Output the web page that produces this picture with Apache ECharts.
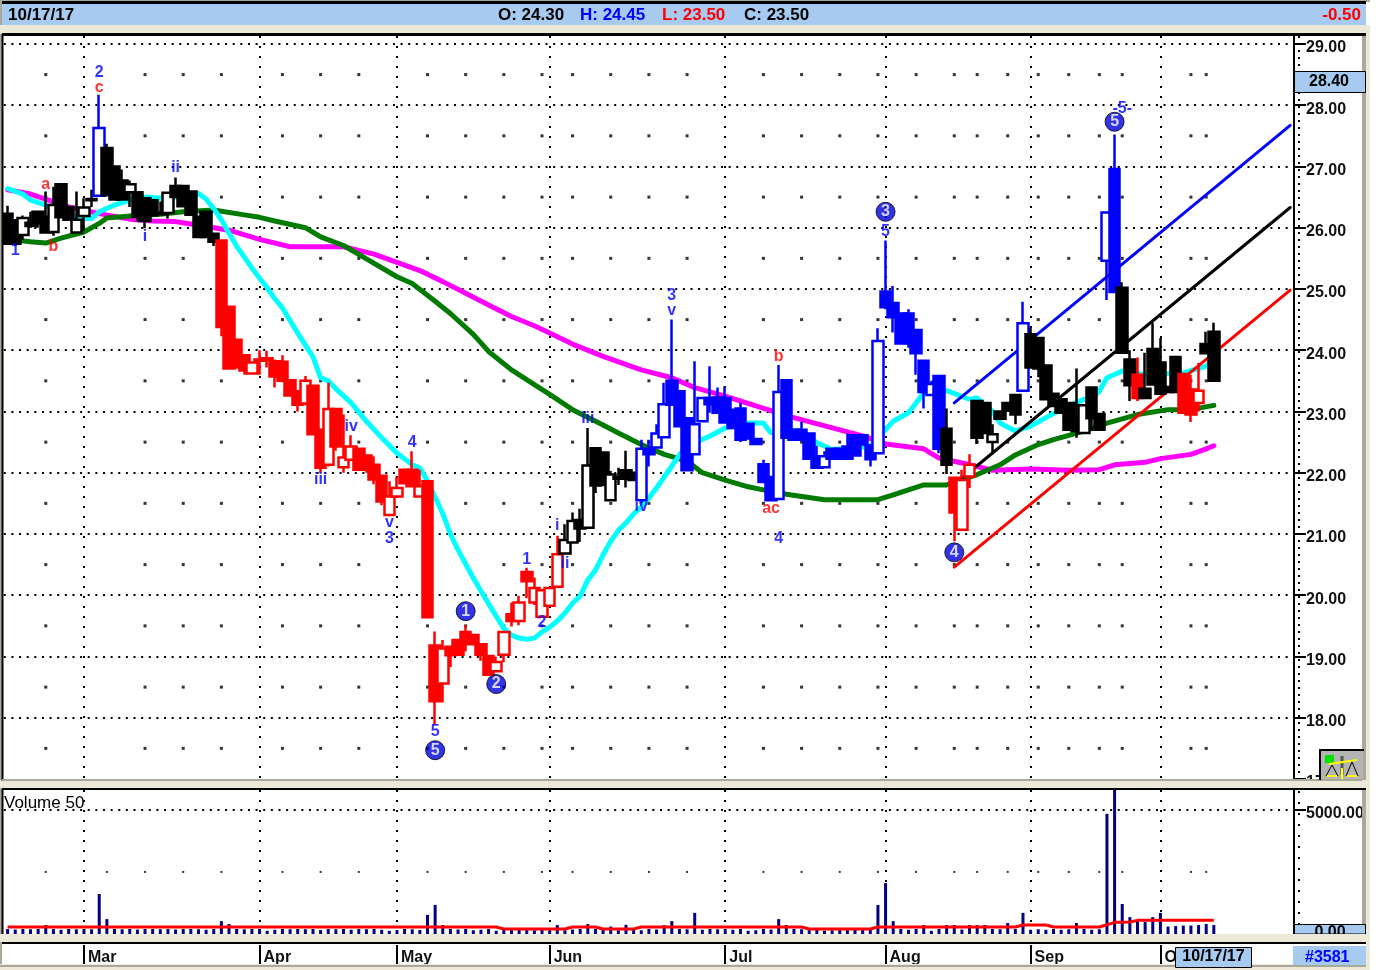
<!DOCTYPE html>
<html>
<head>
<meta charset="utf-8">
<style>html,body{margin:0;padding:0;background:#fff}#main{width:1400px;height:970px}</style>
<script src="https://cdn.jsdelivr.net/npm/echarts@6/dist/echarts.min.js"></script>
</head>
<body>
<div id="main"></div>
<script>
var opens = [
  26.23,26.12,25.88,26.08,26.26,26.18,25.93,26.71,26.34,25.92,
  26.19,26.47,26.52,27.30,27.00,26.77,26.58,26.58,26.48,26.45,
  26.25,26.24,26.68,26.68,26.59,26.17,26.26,25.90,25.79,24.71,
  24.17,23.92,23.62,23.85,23.87,23.82,23.81,23.51,23.33,23.13,
  23.42,22.70,22.13,23.04,22.09,22.21,22.39,22.28,22.13,21.95,
  21.31,21.61,22.05,22.05,21.61,21.86,19.18,18.56,19.16,19.27,
  19.40,19.35,19.20,19.01,18.76,19.03,19.69,19.58,20.38,19.88,
  19.65,19.83,20.14,20.68,20.86,21.23,21.10,22.40,22.33,21.55,
  21.93,22.04,22.00,21.55,22.38,22.41,22.58,23.50,23.33,22.89,
  22.30,22.84,23.22,23.23,23.22,23.03,23.05,22.80,22.55,22.14,
  21.93,21.57,23.51,22.70,22.70,22.64,22.27,22.09,22.39,22.39,
  22.43,22.61,22.61,22.45,22.32,24.96,24.77,24.60,24.60,24.33,
  23.83,23.27,23.58,22.72,21.92,21.07,21.94,23.17,23.14,22.50,
  23.00,23.14,23.27,23.34,24.26,24.20,23.75,23.29,23.20,23.14,
  22.90,22.65,23.39,22.96,25.46,26.96,25.02,23.85,23.60,23.37,
  24.02,23.80,23.40,23.89,23.61,23.36,23.14,24.10,24.30
];
var closes = [
  25.74,25.74,26.16,26.03,26.07,25.92,26.37,26.17,26.13,26.13,
  26.33,26.45,27.63,26.53,26.46,26.46,26.71,26.18,26.11,26.20,
  26.22,26.57,26.50,26.35,26.21,25.85,25.85,25.77,24.38,23.70,
  23.72,23.67,23.80,23.83,23.85,23.57,23.50,23.26,23.11,23.50,
  22.63,22.08,23.04,22.43,22.25,22.43,22.05,22.07,21.89,21.53,
  21.61,21.75,21.83,21.78,21.78,19.64,18.27,19.13,19.02,19.03,
  19.21,19.20,19.03,18.70,18.91,19.40,19.58,19.88,20.23,20.12,
  20.08,20.12,20.67,20.90,21.21,21.09,22.12,21.79,21.80,21.97,
  21.90,21.90,21.88,22.39,22.30,22.64,23.12,23.11,22.76,22.04,
  22.79,23.22,23.12,22.98,22.82,22.73,22.54,22.56,22.47,21.85,
  21.55,23.32,22.57,22.54,22.54,22.23,22.08,22.27,22.23,22.23,
  22.23,22.28,22.46,22.22,24.15,24.70,24.54,24.11,24.12,23.95,
  23.32,23.45,22.39,22.13,21.35,21.88,22.13,22.57,22.65,22.63,
  22.88,23.01,22.95,24.44,23.72,23.70,23.20,23.09,22.98,22.70,
  22.68,23.10,22.89,22.70,26.25,24.95,23.96,23.43,23.22,23.22,
  23.44,23.29,23.32,23.32,22.98,22.95,23.34,23.95,23.50
];
var lows = [
  25.74,25.70,25.80,26.00,26.00,25.92,25.87,26.17,26.13,25.90,
  25.95,26.34,26.52,26.53,26.46,26.46,26.34,26.10,25.99,26.20,
  26.20,26.15,26.50,26.35,26.21,25.85,25.85,25.70,24.23,23.70,
  23.72,23.60,23.62,23.60,23.72,23.39,23.50,23.26,23.00,23.10,
  22.63,22.00,22.10,22.36,22.00,22.20,22.05,22.00,21.81,21.47,
  21.30,21.60,21.83,21.78,21.60,19.64,17.89,18.25,18.83,19.03,
  19.08,19.18,18.93,18.70,18.76,18.91,19.49,19.51,19.95,19.84,
  19.65,19.83,20.14,20.68,20.86,20.87,21.10,21.67,21.80,21.55,
  21.80,21.76,21.88,21.50,22.10,22.41,22.58,23.11,22.76,22.04,
  22.30,22.84,22.98,22.98,22.82,22.73,22.50,22.56,22.47,21.85,
  21.55,21.55,22.57,22.54,22.54,22.23,22.08,22.08,22.23,22.23,
  22.23,22.28,22.46,22.10,22.30,24.67,24.29,24.11,24.04,23.60,
  23.05,23.27,22.32,21.98,20.88,21.07,21.75,22.47,22.65,22.30,
  22.88,23.01,22.79,23.34,23.72,23.56,23.20,23.09,22.98,22.70,
  22.57,22.65,22.68,22.68,24.82,24.95,23.96,23.17,23.17,23.20,
  23.44,23.29,23.32,23.32,22.98,22.83,23.00,23.95,23.50
];
var highs = [
  26.36,26.12,26.20,26.26,26.26,26.59,26.67,26.71,26.34,26.59,
  26.48,26.62,28.17,27.37,27.00,26.95,26.77,26.60,26.48,26.45,
  26.43,26.57,26.82,26.68,26.59,26.20,26.26,25.90,25.79,24.71,
  24.17,23.92,23.80,24.00,23.99,23.85,23.92,23.51,23.33,23.58,
  23.42,22.70,23.47,23.04,22.95,22.61,22.39,22.28,22.27,21.95,
  21.86,21.94,22.05,22.35,22.05,21.86,19.41,19.27,19.16,19.27,
  19.51,19.35,19.20,19.01,19.00,19.40,19.88,19.99,20.45,20.29,
  20.08,20.12,20.97,21.16,21.35,21.41,22.73,22.40,22.33,22.03,
  22.08,22.36,22.00,22.54,22.54,22.79,23.47,24.50,23.33,22.89,
  23.82,23.22,23.74,23.39,23.41,23.03,23.14,22.80,22.55,22.21,
  21.93,23.76,23.51,22.70,22.83,22.64,22.44,22.35,22.39,22.39,
  22.64,22.61,22.61,22.45,24.36,25.79,25.05,24.60,24.67,24.33,
  23.83,23.50,23.58,23.05,21.92,22.05,22.30,23.17,23.14,22.79,
  23.00,23.14,23.27,24.79,24.37,24.20,23.75,23.29,23.20,23.14,
  23.70,23.10,23.39,22.96,26.25,27.52,25.11,24.00,23.88,23.96,
  24.45,24.20,23.40,23.89,23.61,23.60,23.79,24.30,24.45
];
var volumes = [
  200,180,200,190,200,360,200,170,200,190,
  200,190,1610,600,200,190,200,180,200,200,
  190,200,180,200,200,190,170,200,520,400,
  200,190,200,200,130,170,200,190,200,190,
  200,160,200,190,200,170,200,190,200,170,
  130,150,200,190,160,770,1170,360,200,180,
  200,150,170,200,130,200,180,160,200,150,
  200,130,360,150,180,200,400,200,170,300,
  150,370,180,150,200,180,360,520,200,190,
  850,170,200,190,200,170,200,130,150,200,
  180,600,360,200,190,200,180,130,150,200,
  180,170,200,190,1170,2050,520,200,170,200,
  360,130,200,360,360,180,360,360,360,200,
  190,440,200,850,170,190,170,200,170,190,
  440,200,170,190,4840,5800,1210,680,560,480,
  680,850,300,320,340,340,360,400,360
];
var volumeAverage = [
  280,280,280,280,280,280,280,280,280,280,
  280,280,280,280,280,280,280,280,280,280,
  280,280,280,280,280,280,280,280,280,280,
  280,280,280,280,280,280,280,280,280,280,
  280,280,280,280,280,280,280,280,280,280,
  280,280,280,280,280,280,280,280,280,280,
  280,280,280,280,280,200,200,200,200,200,
  200,200,200,200,280,280,280,280,200,200,
  200,200,200,280,280,280,280,280,280,280,
  280,280,280,280,280,280,280,280,280,280,
  280,280,280,280,280,200,200,200,200,200,
  200,200,200,200,280,280,280,280,280,280,
  280,280,280,280,280,280,280,280,280,280,
  280,280,280,360,360,360,360,280,280,280,
  280,280,280,280,370,470,470,480,550,550,
  550,550,550,550,550,550,550,550,550
];

// [bar, price]
var cyanLine = [[0,26.64],[2,26.55],[3,26.45],[5,26.37],[8,26.2],[10,26.15],[11,26.15],[12,26.26],[14,26.37],[16,26.45],[18,26.5],[20,26.48],[22,26.5],[25,26.56],[26,26.47],[27,26.31],[28,26.13],[29,25.91],[30,25.7],[31,25.52],[32,25.34],[33,25.18],[34,25.02],[35,24.84],[36,24.69],[38,24.28],[40,23.89],[41,23.55],[42,23.5],[43,23.37],[45,23.14],[47,22.84],[49,22.57],[51,22.32],[53,22.13],[54,22.08],[55,21.86],[56,21.6],[57,21.33],[58,21.0],[59,20.74],[60,20.51],[61,20.28],[62,20.07],[63,19.86],[64,19.66],[65,19.46],[66,19.35],[67,19.3],[68,19.28],[69,19.3],[70,19.4],[71,19.48],[72,19.58],[73,19.71],[74,19.87],[75,19.99],[76,20.25],[77,20.41],[78,20.66],[79,20.88],[80,21.06],[81,21.18],[82,21.33],[83,21.44],[84,21.59],[85,21.75],[86,21.93],[87,22.11],[88,22.29],[89,22.44],[90,22.49],[92,22.6],[94,22.73],[97,22.81],[99,22.81],[100,22.65],[102,22.7],[104,22.68],[106,22.49],[108,22.38],[113,22.43],[116,22.84],[118,22.98],[120,23.3],[123,23.34],[126,23.2],[127,23.22],[129,23.0],[130,22.81],[132,22.68],[134,22.76],[136,22.9],[138,23.03],[141,23.2],[142,23.22],[143,23.33],[144,23.55],[146,23.66],[149,23.6],[154,23.63],[157,23.74],[158,23.85]];
var greenLine = [[1,25.8],[3,25.77],[5,25.75],[7,25.83],[10,25.93],[12,26.07],[13,26.16],[16,26.19],[20,26.22],[23,26.26],[27,26.29],[31,26.21],[33,26.17],[35,26.11],[39,26.0],[41,25.85],[44,25.71],[47,25.49],[51,25.2],[53,25.09],[56,24.8],[58,24.6],[61,24.26],[63,23.98],[66,23.68],[69,23.44],[71,23.28],[74,23.03],[78,22.78],[80,22.65],[83,22.46],[86,22.3],[89,22.19],[91,22],[94,21.88],[97,21.77],[99,21.72],[102,21.65],[107,21.56],[114,21.56],[116,21.64],[120,21.8],[123,21.8],[127,21.97],[130,22.13],[132,22.29],[135,22.46],[137,22.54],[141,22.68],[144,22.81],[148,22.95],[152,23.03],[155,23.03],[158,23.1]];
var magentaLine = [[0,26.62],[3,26.55],[8,26.34],[12,26.23],[16,26.14],[19,26.11],[22,26.1],[24,26.06],[29,25.96],[33,25.81],[37,25.69],[44,25.69],[48,25.57],[52,25.39],[54,25.3],[57,25.12],[60,24.93],[63,24.74],[66,24.55],[69,24.4],[71,24.28],[74,24.1],[78,23.9],[83,23.68],[87,23.55],[90,23.39],[94,23.25],[98,23.09],[103,22.9],[109,22.7],[112,22.6],[115,22.47],[120,22.39],[122,22.24],[125,22.16],[129,22.04],[134,22.06],[139,22.04],[143,22.05],[145,22.13],[149,22.17],[151,22.23],[155,22.3],[157,22.39],[158,22.44]];
var blueTrend = [[124,23.14],[168,27.67]];
var blackTrend = [[125,21.91],[168,26.33]];
var redTrend = [[124,20.46],[168,24.98]];

// month names on the bar where they start
var monthBars = [10,33,51,71,94,115,134,151];
var monthNames = ['Mar','Apr','May','Jun','Jul','Aug','Sep','Oct'];
var gridDotBars = [5,18,23,28,36,41,46,55,60,65,70,74,79,84,89,99,104,109,114,119,124,127,131,135,139,143,146,155,157];
var gridDotPrices = [28.5,27.5,26.5,25.5,24.5,23.5,22.5,21.5,20.5,19.5,18.5,17.5];

// wave labels: text, bar, price
var blueLabels = [['2',12,28.54],['1',1,25.62],['i',18,25.85],['ii',22,26.98],['iii',41,21.88],['iv',45,22.75],['4',53,22.5],['v',50,21.19],['3',50,20.93],['5',56,17.78],['1',68,20.59],['2',70,19.56],['i',72,21.13],['ii',73,20.52],['iii',76,22.89],['iv',83,21.44],['3',87,24.9],['v',87,24.64],['4',101,20.92],['5',115,25.93],['-5-',146,27.94]];
var redLabels = [['c',12,28.28],['a',5,26.7],['b',6,25.7],['b',101,23.9],['ac',100,21.42]];
var circleLabels = [['5',56,17.47],['1',60,19.74],['2',64,18.55],['3',115,26.26],['4',124,20.7],['5',145,27.73]];

var BLACK = '#000', BLUE = '#0000ff', RED = '#ff0000';
var colourRuns = [[11,BLACK],[12,BLUE],[27,BLACK],[72,RED],[82,BLACK],[122,BLUE],[123,BLACK],[126,RED],[132,BLACK],[133,BLUE],[143,BLACK],[145,BLUE],[147,BLACK],[148,RED],[153,BLACK],[156,RED],[158,BLACK]];
function barColour(i) {
  for (var r = 0; r < colourRuns.length; r++) {
    if (i <= colourRuns[r][0]) return colourRuns[r][1];
  }
  return BLACK;
}

// 169 slots so the bars keep the picture's spacing, the last ones stay empty
var categories = [];
for (var c = 0; c < 169; c++) categories.push(c);
function isMonth(index) { return monthBars.indexOf(index) >= 0; }

// up days are hollow, down days solid
var candleData = opens.map(function (o, i) {
  var col = barColour(i);
  var fill = closes[i] > o ? '#fff' : col;
  return {
    value: [o, closes[i], lows[i], highs[i]],
    itemStyle: {color: fill, color0: fill, borderColor: col, borderColor0: col, borderWidth: 2.5}
  };
});

var priceDots = [];
gridDotPrices.forEach(function (p) {
  gridDotBars.forEach(function (b) { priceDots.push([b, p]); });
});
var volumeDots = gridDotBars.concat([13]).map(function (b) { return [b, 2500]; });

function toLabelPoints(list) {
  return list.map(function (l) { return {value: [l[1], l[2]], name: l[0]}; });
}
function maLine(name, data, colour, width) {
  return {
    name: name, type: 'line', data: data, xAxisIndex: 0, yAxisIndex: 0, z: 3,
    showSymbol: false, symbol: 'none', silent: true,
    lineStyle: {color: colour, width: width, cap: 'round'}
  };
}
function textSeries(list, colour) {
  return {
    type: 'scatter', data: toLabelPoints(list), xAxisIndex: 0, yAxisIndex: 0, z: 6,
    symbolSize: 1, itemStyle: {color: 'transparent'},
    label: {
      show: true, position: 'inside', color: colour, fontFamily: 'Liberation Sans',
      fontWeight: 'bold', fontSize: 16,
      formatter: function (p) { return p.name; }
    }
  };
}

var FONT = 'Liberation Sans';
var PANEL = '#a6caf0', BAND = '#ece9d8', EDGE = '#aca899';
function box(x, y, w, h, fill, stroke) {
  return {type: 'rect', z: 100, shape: {x: x, y: y, width: w, height: h},
    style: {fill: fill, stroke: stroke || null, lineWidth: stroke ? 1 : 0}};
}
function txt(x, y, s, colour, align, weight, size) {
  return {type: 'text', z: 101, x: x, y: y,
    style: {text: s, fill: colour, font: (weight || 'bold') + ' ' + (size || 16) + 'px ' + FONT, align: align || 'left', verticalAlign: 'middle'}};
}
function seg(x1, y1, x2, y2, colour, w, dash, z) {
  return {type: 'line', z: z || 102, shape: {x1: x1, y1: y1, x2: x2, y2: y2},
    style: {stroke: colour, lineWidth: w, lineDash: dash || null}};
}

var chrome = [
  // outer bands and edges
  box(1366, 0, 34, 970, '#fff'),
  box(1362, 26, 4, 916, EDGE),
  box(0, 0, 1370, 2, EDGE),
  box(0, 0, 2, 970, EDGE),
  box(0, 25, 1370, 9, BAND),
  box(0, 780, 1370, 8, BAND),
  box(0, 934, 1370, 8, BAND),
  box(0, 964, 1370, 6, BAND),
  box(0, 965, 1370, 2, EDGE),
  box(1366, 25, 4, 945, BAND),
  // plot frames
  seg(2, 2.5, 1366, 2.5, '#000', 3),
  seg(2, 34.5, 1366, 34.5, '#000', 3),
  seg(2.5, 34, 2.5, 781, '#000', 2),
  seg(2, 780, 1362, 780, EDGE, 2),
  seg(2, 789, 1366, 789, '#000', 2),
  seg(2.5, 789, 2.5, 934, '#000', 2),
  seg(2, 943, 1366, 943, '#000', 2),
  // quote header
  box(2, 4, 1364, 21, PANEL),
  txt(8, 15, '10/17/17', '#000', 'left', 'bold', 17),
  txt(498, 15, 'O: 24.30', '#000', 'left', 'bold', 17),
  txt(580, 15, 'H: 24.45', BLUE, 'left', 'bold', 17),
  txt(662, 15, 'L: 23.50', RED, 'left', 'bold', 17),
  txt(744, 15, 'C: 23.50', '#000', 'left', 'bold', 17),
  txt(1361, 15, '-0.50', RED, 'right', 'bold', 17),
  // axis dots and tags
  seg(1299, 36, 1299, 779, '#000', 2, [2, 5], 99),
  seg(1299, 791, 1299, 933, '#000', 2, [2, 9], 99),
  box(1294.5, 71.5, 71, 21, PANEL, '#000'),
  txt(1329, 82, '28.40', '#000', 'center'),
  box(1294.5, 924.5, 71, 9.5, PANEL, '#000'),
  txt(1330, 933, '0.00', '#000', 'center'),
  txt(4, 803, 'Volume 50', '#000', 'left', 'normal', 17),
  seg(0, 938, 1366, 938, BAND, 8),
  seg(2, 943, 1366, 943, '#000', 2),
  box(1366, 900, 4, 70, BAND),
  // date boxes
  box(1175.5, 947.5, 76, 20, PANEL, '#000'),
  txt(1213.5, 957, '10/17/17', '#000', 'center'),
  box(1293, 946, 73, 19, PANEL),
  txt(1305, 958, '#3581', BLUE),
  // scales icon
  box(1320, 750, 43, 29, '#b4b4b4'),
  seg(1319, 750, 1364, 750, '#000', 2),
  seg(1320, 749, 1320, 780, '#000', 2),
  box(1325, 755, 9, 8, '#00e000'),
  seg(1342, 756, 1342, 775, '#555', 3),
  seg(1329, 764, 1357, 760, '#ffff00', 2),
  seg(1332, 765, 1326, 776, '#000', 1),
  seg(1332, 765, 1338, 776, '#000', 1),
  seg(1352, 762, 1346, 776, '#000', 1),
  seg(1352, 762, 1358, 776, '#000', 1),
  seg(1327, 776, 1337, 776, '#ffff00', 2),
  seg(1347, 776, 1357, 776, '#ffff00', 2),
  seg(1342, 768, 1342, 779, '#ffff00', 2)
];

var dotted = {color: '#000', width: 2, type: [2, 5.63]};
var monthDots = {color: '#000', width: 2, type: [2, 8]};

var myChart = echarts.init(document.getElementById('main'));
var option = {
  animation: false,
  backgroundColor: '#fff',
  textStyle: {fontFamily: FONT},
  graphic: {elements: chrome},
  grid: [
    {left: 3.8, width: 1290.2, top: 36, height: 743},
    {left: 3.8, width: 1290.2, top: 790, height: 144},
    {left: 3.8, width: 1290.2, top: 945, height: 20}
  ],
  xAxis: [
    {
      type: 'category', gridIndex: 0, data: categories,
      axisLine: {show: false}, axisTick: {show: false}, axisLabel: {show: false},
      splitLine: {show: true, alignWithLabel: true, interval: isMonth, lineStyle: monthDots}
    },
    {
      type: 'category', gridIndex: 1, data: categories,
      axisLine: {show: false}, axisTick: {show: false}, axisLabel: {show: false},
      splitLine: {show: true, alignWithLabel: true, interval: isMonth, lineStyle: monthDots}
    },
    {
      type: 'category', gridIndex: 2, data: categories,
      axisLine: {show: false},
      axisTick: {show: true, alignWithLabel: true, inside: true, length: 20, interval: isMonth, lineStyle: {color: '#000', width: 2}},
      axisLabel: {
        show: true, inside: true, interval: isMonth, margin: -1, align: 'left', padding: [0, 0, 0, 4],
        color: '#111', fontWeight: 'bold', fontSize: 16, fontFamily: FONT,
        formatter: function (v) { return monthNames[monthBars.indexOf(+v)]; }
      }
    }
  ],
  yAxis: [
    {
      type: 'value', gridIndex: 0, position: 'right', min: 17, max: 29.13, interval: 1,
      axisLine: {show: true, lineStyle: {color: '#000', width: 2}},
      axisTick: {show: true, length: 12, lineStyle: {color: '#000', width: 2}},
      axisLabel: {
        margin: 12, color: '#111', fontWeight: 'bold', fontSize: 16, fontFamily: FONT,
        showMaxLabel: false, verticalAlign: 'top', lineHeight: 8,
        formatter: function (v) { return v.toFixed(2); }
      },
      splitLine: {show: true, showMaxLine: false, showMinLine: false, lineStyle: dotted}
    },
    {
      type: 'value', gridIndex: 1, position: 'right', min: 0, max: 5800, interval: 5000,
      axisLine: {show: true, lineStyle: {color: '#000', width: 2}},
      axisTick: {show: true, length: 12, lineStyle: {color: '#000', width: 2}},
      axisLabel: {
        margin: 12, color: '#111', fontWeight: 'bold', fontSize: 16, fontFamily: FONT,
        showMaxLabel: false, showMinLabel: false, verticalAlign: 'top', lineHeight: 8,
        formatter: function (v) { return v.toFixed(2); }
      },
      splitLine: {show: true, showMaxLine: false, showMinLine: false, lineStyle: dotted}
    },
    {type: 'value', gridIndex: 2, show: false}
  ],
  series: [
    {
      type: 'scatter', data: priceDots, xAxisIndex: 0, yAxisIndex: 0, z: 1, silent: true,
      symbol: 'rect', symbolSize: 3, itemStyle: {color: '#000'}
    },
    maLine('magenta', magentaLine, '#ff00ff', 5),
    maLine('green', greenLine, '#007b00', 5),
    maLine('cyan', cyanLine, '#00ffff', 5),
    maLine('blue trend', blueTrend, BLUE, 3),
    maLine('black trend', blackTrend, BLACK, 3),
    maLine('red trend', redTrend, RED, 3),
    {
      type: 'candlestick', data: candleData, xAxisIndex: 0, yAxisIndex: 0, z: 4,
      barWidth: 11, large: false, silent: true
    },
    textSeries(blueLabels, BLUE),
    textSeries(redLabels, RED),
    {
      type: 'scatter', data: toLabelPoints(circleLabels), xAxisIndex: 0, yAxisIndex: 0, z: 6,
      symbolSize: 19, itemStyle: {color: '#0000e0', borderColor: '#000', borderWidth: 1},
      label: {
        show: true, position: 'inside', color: '#fff', fontWeight: 'bold', fontSize: 16, fontFamily: FONT,
        formatter: function (p) { return p.name; }
      }
    },
    {
      type: 'scatter', data: volumeDots, xAxisIndex: 1, yAxisIndex: 1, z: 1, silent: true,
      symbol: 'rect', symbolSize: 2, itemStyle: {color: '#000'}
    },
    {
      type: 'bar', data: volumes, xAxisIndex: 1, yAxisIndex: 1, barWidth: 3, z: 3,
      itemStyle: {color: '#000080'}
    },
    {
      type: 'line', data: volumeAverage, xAxisIndex: 1, yAxisIndex: 1, z: 4,
      showSymbol: false, symbol: 'none', lineStyle: {color: RED, width: 3}
    }
  ]
};

myChart.setOption(option);
</script>
</body>
</html>
